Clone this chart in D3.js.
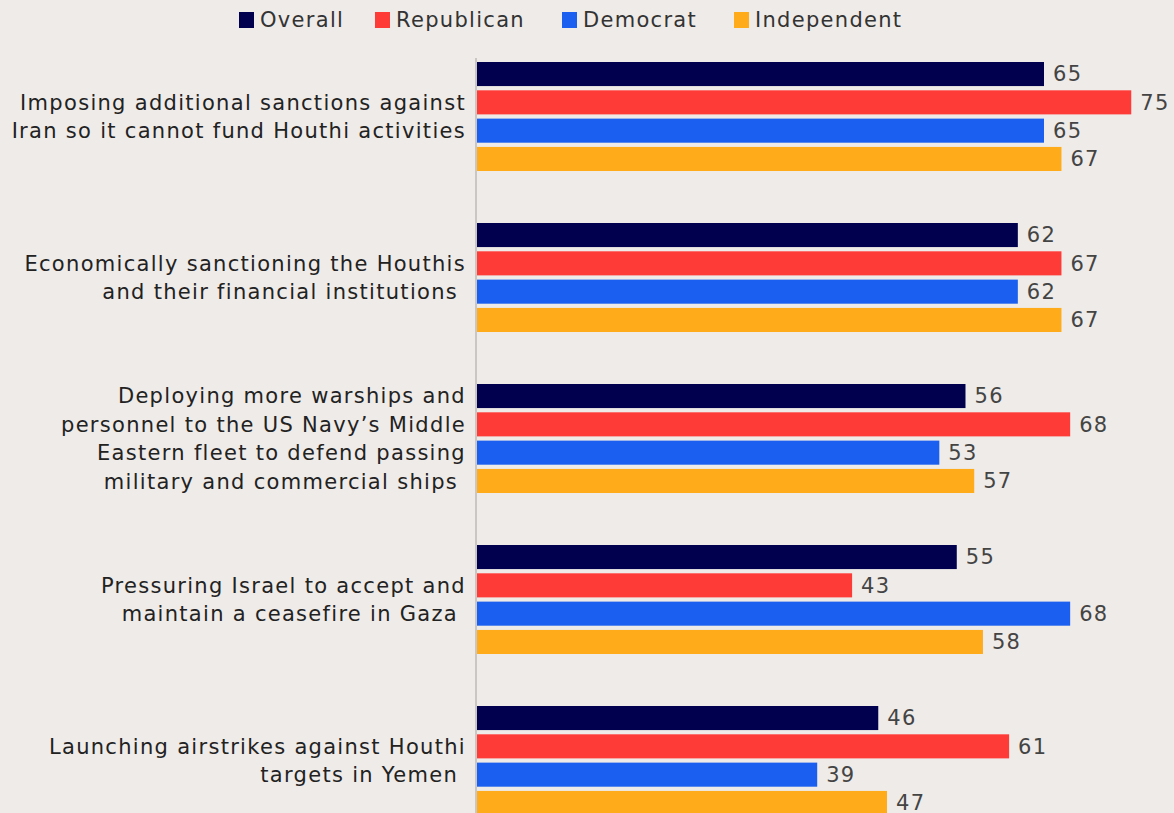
<!DOCTYPE html>
<html>
<head>
<meta charset="utf-8">
<script src="https://cdn.jsdelivr.net/npm/d3@7"></script>
<style>
  html, body { margin: 0; padding: 0; background: #eeebe8; }
  svg { display: block; font-family: "DejaVu Sans", sans-serif; letter-spacing: 1.3px; }
</style>
</head>
<body>
<svg width="1174" height="813"></svg>
<script>
// categories (label lines, trailing spaces as in source)
const categories = [
    ['Imposing additional sanctions against', 'Iran so it cannot fund Houthi activities'],
    ['Economically sanctioning the Houthis', 'and their financial institutions '],
    ['Deploying more warships and', 'personnel to the US Navy\u2019s Middle', 'Eastern fleet to defend passing', 'military and commercial ships '],
    ['Pressuring Israel to accept and', 'maintain a ceasefire in Gaza '],
    ['Launching airstrikes against Houthi', 'targets in Yemen ']
];
const series = ['Overall', 'Republican', 'Democrat', 'Independent'];
const overall = [65, 62, 56, 55, 46];
const republican = [75, 67, 68, 43, 61];
const democrat = [65, 62, 53, 68, 39];
const independent = [67, 67, 57, 58, 47];
const colors = ['#00004f', '#ff3b37', '#1a5ff0', '#ffab1a'];

const svg = d3.select('svg');
const width = +svg.attr('width');
const height = +svg.attr('height');

const values = [overall, republican, democrat, independent];
const data = categories.map((c, i) => ({
    key: i,
    lines: c,
    vals: series.map((s, j) => ({series: s, value: values[j][i]}))
}));

const left = 477;
const x = d3.scaleLinear().domain([0, 65]).range([left, 1044]);

// groepen
const y0 = d3.scaleBand()
    .domain(data.map(d => d.key))
    .range([62, 815])
    .paddingInner(0.323)
    .paddingOuter(0)
    .align(0);

const y1 = d3.scaleBand()
    .domain(series)
    .range([0, y0.bandwidth()])
    .padding(0.15)
    .paddingOuter(0);

const color = d3.scaleOrdinal().domain(series).range(colors);

// as-lijn
svg.append('line')
    .attr('x1', left - 1).attr('x2', left - 1)
    .attr('y1', 58).attr('y2', height)
    .attr('stroke', '#c9c6c3')
    .attr('stroke-width', 2);

const g = svg.selectAll('g.group').data(data)
    .enter().append('g')
    .attr('class', 'group')
    .attr('transform', d => `translate(0, ${y0(d.key)})`);

g.selectAll('rect').data(d => d.vals)
    .enter().append('rect')
    .attr('x', x(0))
    .attr('y', d => y1(d.series))
    .attr('width', d => x(d.value) - x(0))
    .attr('height', y1.bandwidth())
    .attr('fill', d => color(d.series));

g.selectAll('text.val').data(d => d.vals)
    .enter().append('text')
    .attr('class', 'val')
    .attr('x', d => x(d.value) + 9)
    .attr('y', d => y1(d.series) + y1.bandwidth() / 2)
    .attr('dy', '0.35em')
    .attr('font-size', 21)
    .attr('fill', '#444')
    .text(d => d.value);

// labels links
const lineH = 28.5;
g.append('text')
    .attr('text-anchor', 'end')
    .attr('font-size', 21)
    .attr('fill', '#222')
    .style('white-space', 'pre')
    .each(function(d) {
        const t = d3.select(this);
        const mid = y0.bandwidth() / 2;
        const n = d.lines.length;
        d.lines.forEach((l, i) => {
            t.append('tspan')
                .attr('x', 466)
                .attr('y', mid + (i - (n - 1) / 2) * lineH)
                .attr('dy', '0.35em')
                .text(l);
        });
    });

// legenda
const legendX = [239, 375, 562, 734];
const legend = svg.selectAll('g.legend').data(series)
    .enter().append('g')
    .attr('class', 'legend')
    .attr('transform', (d, i) => `translate(${legendX[i]}, 12)`);

legend.append('rect')
    .attr('width', 15).attr('height', 16)
    .attr('fill', d => color(d));

legend.append('text')
    .attr('x', 21)
    .attr('y', 8)
    .attr('dy', '0.35em')
    .attr('font-size', 21)
    .attr('fill', '#333')
    .text(d => d);
</script>
</body>
</html>
